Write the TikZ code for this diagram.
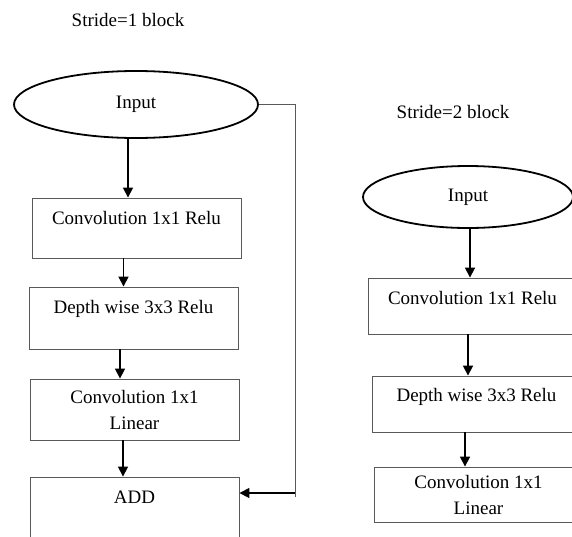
\documentclass[tikz,border=0pt]{standalone}
\usepackage{fontspec}
\setmainfont{Liberation Serif}
\usetikzlibrary{arrows.meta,shapes.geometric,calc}

\tikzset{
  every node/.style={font=\fontsize{19}{26}\selectfont},
  lineclr/.style={draw=black!65},
  stepbox/.style={lineclr, line width=0.9pt, rectangle, inner sep=0pt,
    minimum width=209pt, align=center},
  topbox/.style={stepbox, text height=14pt, text depth=#1},
  inbox/.style={draw=black, line width=1.8pt, ellipse, inner sep=0pt},
  arr/.style={line width=1.7pt, -{Triangle[length=10pt,width=10pt]}},
  skipline/.style={lineclr, line width=1pt},
  title/.style={anchor=base, inner sep=0pt}
}

\begin{document}
\begin{tikzpicture}[x=1pt,y=-1pt]
\useasboundingbox (0,0) rectangle (572,536);

% ---- stride 1 block ----
\node[title] (t1) at (128,26) {Stride=1 block};
\node[inbox, minimum width=244pt, minimum height=67pt] (in1) at (136,104.5) {Input};
\node[topbox=22pt, minimum height=60pt] (c1) at (136.5,228) {Convolution 1x1 Relu};
\node[topbox=24pt, minimum height=62pt] (d1) at (133.5,318) {Depth wise 3x3 Relu};
\node[stepbox, minimum height=61pt] (l1) at (134.5,409.5) {Convolution 1x1\\Linear};
\node[topbox=22pt, minimum height=60pt] (add) at (134.5,507) {ADD};

\draw[arr] ([xshift=-8pt]in1.south) -- ([xshift=-8pt]in1.south |- c1.north);
\draw[arr] ([xshift=-13pt]c1.south) -- ([xshift=-13pt]c1.south |- d1.north);
\draw[arr] ([xshift=-13.5pt]d1.south) -- ([xshift=-13.5pt]d1.south |- l1.north);
\draw[arr] ([xshift=-11.5pt]l1.south) -- ([xshift=-11.5pt]l1.south |- add.north);

% skip connection
\coordinate (k2) at (295,493);
\draw[skipline] (in1.east) -| ([yshift=-4pt]k2);
\draw[arr] (k2) -- (k2 -| add.east);

% ---- stride 2 block ----
\node[title] (t2) at (453,118) {Stride=2 block};
\node[inbox, minimum width=210pt, minimum height=62pt] (in2) at (468,197) {Input};
\node[topbox=18pt, minimum height=56pt] (c2) at (472.5,306) {Convolution 1x1 Relu};
\node[topbox=19pt, minimum height=56pt] (d2) at (476.5,404) {Depth wise 3x3 Relu};
\node[stepbox, minimum height=55pt] (l2) at (478.5,494.5) {Convolution 1x1\\Linear};

\draw[arr] ([xshift=2pt]in2.south) -- ([xshift=2pt]in2.south |- c2.north);
\draw[arr] ([xshift=-4.5pt]c2.south) -- ([xshift=-4.5pt]c2.south |- d2.north);
\draw[arr] ([xshift=-11.5pt]d2.south) -- ([xshift=-11.5pt]d2.south |- l2.north);
\end{tikzpicture}
\end{document}
